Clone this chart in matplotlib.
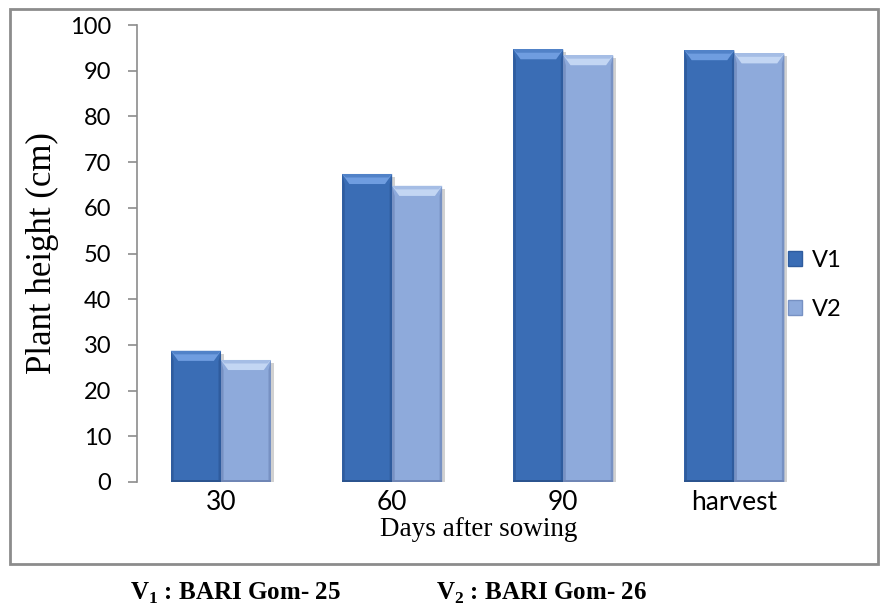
import matplotlib
matplotlib.use("Agg")
import matplotlib.pyplot as plt
from matplotlib.patches import Polygon, Rectangle, Patch
import numpy as np

# Data
categories = ["30", "60", "90", "harvest"]
v1_heights = [28.7, 67.4, 94.7, 94.5]
v2_heights = [26.7, 64.8, 93.4, 93.8]
series_names = ["V1", "V2"]
y_ticks = list(range(0, 101, 10))

plt.rcParams["mathtext.fontset"] = "custom"
plt.rcParams["mathtext.rm"] = "Liberation Serif"
plt.rcParams["mathtext.bf"] = "Liberation Serif:bold"

W, H = 882, 606
fig = plt.figure(figsize=(W / 100, H / 100), dpi=100)

# Outer chart frame
frame = Rectangle((10 / W, 1 - 564 / H), 868 / W, (564 - 9) / H,
                  transform=fig.transFigure, fill=False,
                  edgecolor="#8c8c8c", linewidth=2.0)
fig.patches.append(frame)

ax = fig.add_axes([137 / W, 1 - 482 / H, 683 / W, (482 - 25) / H])

styles = [
    dict(face="#3a6db5", top="#6f9de0", side="#2f5c9e", bottom="#2b548f"),
    dict(face="#8eaadb", top="#c3d6f3", side="#7791c3", bottom="#6f86b5"),
]

x = np.arange(len(categories))
bw = 0.292
bx = 0.042   # bevel width in category units
by = 2.2     # bevel height in data units

for si, vals in enumerate([v1_heights, v2_heights]):
    st = styles[si]
    offs = -bw / 2 if si == 0 else bw / 2
    bars = ax.bar(x + offs, vals, width=bw, color=st["face"],
                  edgecolor="none", zorder=3)
    for rect in bars:
        x0 = rect.get_x()
        x1 = x0 + rect.get_width()
        top = rect.get_height()
        # soft shadow on the right
        ax.add_patch(Rectangle((x1, 0), 0.018, top - 0.6, color="#000000",
                               alpha=0.18, lw=0, zorder=2))
        # side edges
        ax.add_patch(Polygon([(x0, 0), (x0, top), (x0 + bx * 0.35, top - by),
                              (x0 + bx * 0.35, 0)], closed=True,
                             color=st["side"], lw=0, zorder=4))
        ax.add_patch(Polygon([(x1, 0), (x1, top), (x1 - bx * 0.35, top - by),
                              (x1 - bx * 0.35, 0)], closed=True,
                             color=st["side"], lw=0, zorder=4))
        # top bevel
        ax.add_patch(Polygon([(x0, top), (x1, top), (x1 - bx, top - by),
                              (x0 + bx, top - by)], closed=True,
                             color=st["top"], lw=0, zorder=5))
        ax.add_patch(Polygon([(x0, top), (x1, top), (x1 - bx * 0.5, top - by * 0.35),
                              (x0 + bx * 0.5, top - by * 0.35)], closed=True,
                             color=st["face"], alpha=0.55, lw=0, zorder=6))
        # bottom edge
        ax.add_patch(Rectangle((x0, 0), x1 - x0, 0.5, color=st["bottom"],
                               lw=0, zorder=5))

ax.set_xlim(-0.491, 3.5)
ax.set_ylim(0, 100)
ax.set_yticks(y_ticks)
ax.set_xticks(x)
ax.set_xticklabels(categories)

for s in ["top", "right", "bottom"]:
    ax.spines[s].set_visible(False)
ax.spines["left"].set_color("#8c8c8c")
ax.spines["left"].set_linewidth(1.2)
ax.tick_params(axis="y", direction="out", length=6.5, width=1.2,
               color="#8c8c8c", labelsize=17, pad=12)
ax.tick_params(axis="x", length=0, labelsize=19, pad=6)
for lab in ax.get_xticklabels() + ax.get_yticklabels():
    lab.set_fontfamily("Lato")

ax.set_ylabel("Plant height (cm)", fontfamily="Liberation Serif",
              fontsize=25, labelpad=8)
ax.set_xlabel("Days after sowing", fontfamily="Liberation Serif",
              fontsize=19.5, labelpad=1)

handles = [Patch(facecolor=styles[0]["face"], edgecolor=styles[0]["side"]),
           Patch(facecolor=styles[1]["face"], edgecolor=styles[1]["side"])]
leg = fig.legend(handles, series_names, loc="center left",
                 bbox_to_anchor=(767 / W, 1 - 285 / H), frameon=False,
                 prop={"family": "Lato", "size": 17}, handlelength=0.6,
                 handleheight=0.6, handletextpad=0.4, labelspacing=1.2)

fig.text(130 / W, 1 - 593 / H, r"V$_{\mathbf{1}}$ : BARI Gom- 25",
         fontfamily="Liberation Serif", fontweight="bold", fontsize=18,
         ha="left", va="center")
fig.text(436 / W, 1 - 593 / H, r"V$_{\mathbf{2}}$ : BARI Gom- 26",
         fontfamily="Liberation Serif", fontweight="bold", fontsize=18,
         ha="left", va="center")

fig.savefig("out.png", dpi=100)
